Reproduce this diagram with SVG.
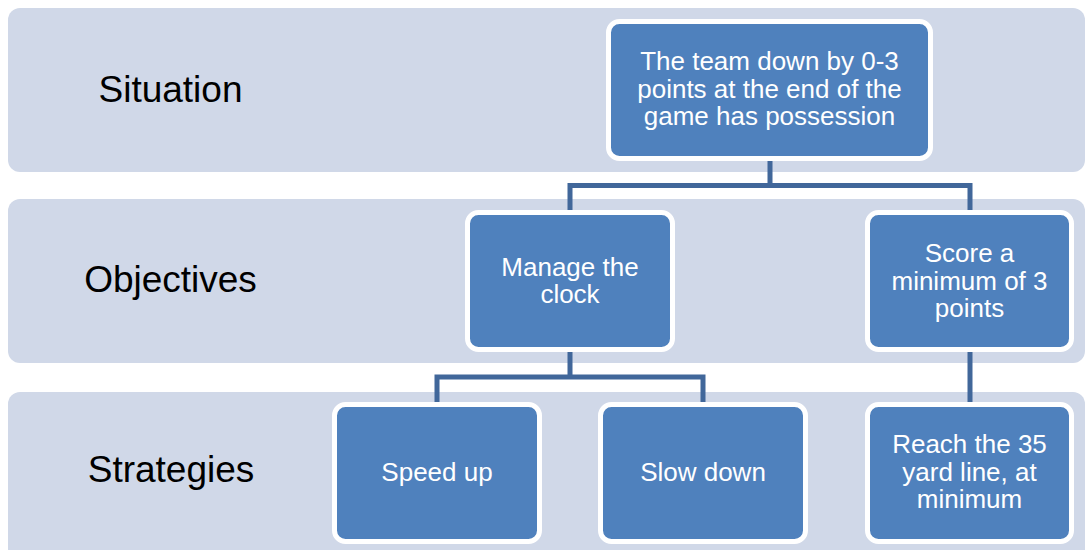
<svg xmlns="http://www.w3.org/2000/svg" width="1085" height="550" viewBox="0 0 1085 550">
<style>
.band{fill:#d0d8e8}
.lbl{font-family:"Liberation Sans",Arial,sans-serif;font-size:37px;fill:#000;text-anchor:middle}
.node{fill:#4f81bd;stroke:#fff;stroke-width:5}
.nt{font-family:"Liberation Sans",Arial,sans-serif;font-size:26px;fill:#fff;text-anchor:middle}
.conn{fill:none;stroke:#41679a;stroke-width:5;stroke-linejoin:miter}
</style>
<rect width="1085" height="550" fill="#fff"/>
<g id="band-situation">
<rect class="band" x="8" y="8" width="1077" height="164" rx="12"/>
<text class="lbl" x="170.5" y="102">Situation</text>
</g>
<g id="band-objectives">
<rect class="band" x="8" y="199" width="1077" height="164" rx="12"/>
<text class="lbl" x="170.5" y="292">Objectives</text>
</g>
<g id="band-strategies">
<rect class="band" x="8" y="392" width="1077" height="170" rx="12"/>
<text class="lbl" x="171" y="482">Strategies</text>
</g>
<g id="connectors">
<path class="conn" d="M770,158 V185.5 M570,212 V185.5 H970 V212"/>
<path class="conn" d="M570,350 V377 M437,404 V377 H703 V404"/>
<path class="conn" d="M970,350 V404"/>
</g>
<g id="node-situation">
<rect class="node" x="608.5" y="21.5" width="322" height="137" rx="11"/>
<text class="nt" x="769.5" y="70">The team down by 0-3</text>
<text class="nt" x="769.5" y="97.5">points at the end of the</text>
<text class="nt" x="769.5" y="125">game has possession</text>
</g>
<g id="node-manage">
<rect class="node" x="467.5" y="212.5" width="205" height="137" rx="11"/>
<text class="nt" x="570" y="275.5">Manage the</text>
<text class="nt" x="570" y="303">clock</text>
</g>
<g id="node-score">
<rect class="node" x="867.5" y="212.5" width="204" height="137" rx="11"/>
<text class="nt" x="969.5" y="262">Score a</text>
<text class="nt" x="969.5" y="289.5">minimum of 3</text>
<text class="nt" x="969.5" y="317">points</text>
</g>
<g id="node-speed">
<rect class="node" x="334.5" y="404.5" width="205" height="137" rx="11"/>
<text class="nt" x="437" y="481">Speed up</text>
</g>
<g id="node-slow">
<rect class="node" x="600.5" y="404.5" width="205" height="137" rx="11"/>
<text class="nt" x="703" y="481">Slow down</text>
</g>
<g id="node-reach">
<rect class="node" x="867.5" y="404.5" width="204" height="137" rx="11"/>
<text class="nt" x="969.5" y="453">Reach the 35</text>
<text class="nt" x="969.5" y="480.5">yard line, at</text>
<text class="nt" x="969.5" y="508">minimum</text>
</g>
</svg>
